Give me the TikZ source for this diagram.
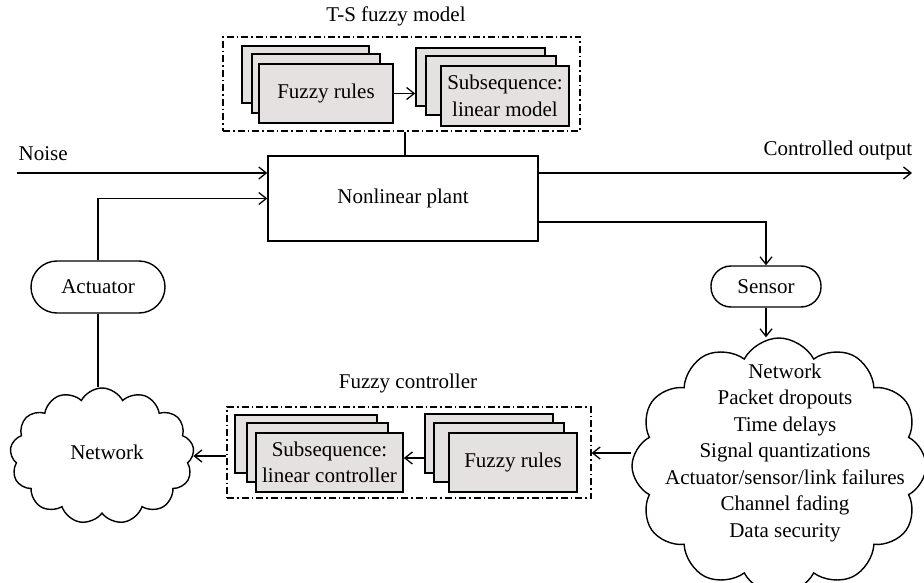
\documentclass[tikz,border=0pt]{standalone}
\usepackage{fontspec}
\setmainfont{Liberation Serif}
\usetikzlibrary{arrows.meta,shapes.symbols,calc}
\definecolor{boxfill}{RGB}{230,225,225}
\begin{document}
\begin{tikzpicture}[x=1pt,y=-1pt,
  every node/.style={font=\fontsize{21}{26.5}\selectfont, inner sep=0pt},
  line width=1.4pt,
  arr/.style={-{Straight Barb[length=7.5pt,width=12pt,line width=1.3pt]}},
  card/.style={draw, fill=boxfill, line width=1.7pt, align=center},
  plantbox/.style={draw, line width=1.4pt},
  pill/.style={draw, rounded corners=20pt, line width=1.4pt},
  grp/.style={draw, line width=1.2pt, dash pattern=on 7pt off 3pt on 1.5pt off 3pt},
  cloudbox/.style={draw, cloud, cloud puffs=11, cloud puff arc=125, line width=1.4pt}
]
\useasboundingbox (0,0) rectangle (924,583);

% T-S fuzzy model
\node (tstitle) at (396,16) {T-S fuzzy model};
\node[grp, minimum width=357pt, minimum height=94pt] (tdash) at (401.5,84) {};
\node[card, minimum width=127pt, minimum height=57pt] (tfr1) at (305.5,74.5) {};
\node[card, minimum width=128pt, minimum height=59pt] (tfr2) at (316,83.5) {};
\node[card, minimum width=134pt, minimum height=59pt] (tfr3) at (326,93.5) {Fuzzy rules};
\node[card, minimum width=129pt, minimum height=58pt] (tsub1) at (480.5,77) {};
\node[card, minimum width=130pt, minimum height=59pt] (tsub2) at (491,85.5) {};
\node[card, minimum width=128pt, minimum height=60pt] (tsub3) at (505,96) {Subsequence:\\linear model};
\draw[arr] (tfr3.east) -- (tfr3.east -| tsub1.west);

% plant
\node[plantbox, minimum width=270pt, minimum height=85pt] (plant) at (403,198.5) {Nonlinear plant};
\draw ([xshift=3.5pt]tdash.south) -- ([xshift=3.5pt]tdash.south |- plant.north);

% noise and output
\node[anchor=west] (noise) at (18,154) {Noise};
\node[anchor=east] (outlbl) at (913,150) {Controlled output};
\coordinate (noiseS) at (17,173);
\coordinate (outE) at (912,173);
\draw[arr] (noiseS) -- (noiseS -| plant.west);
\draw[arr] (outE -| plant.east) -- (outE);

% actuator / sensor
\node[pill, minimum width=134pt, minimum height=52pt, rounded corners=26pt] (act) at (98,287) {Actuator};
\node[pill, minimum width=110pt, minimum height=41pt] (sens) at (766,286.5) {Sensor};
\draw[arr] (act.north) |- (plant.west);
\draw[arr] ([yshift=-23.5pt]plant.east) -| (sens.north);

% clouds
\node[cloudbox, cloud puffs=13, minimum width=184pt, minimum height=136pt] (cloudL) at (102,456) {};
\node (netL) at (107,452) {Network};
\node[cloudbox, cloud puffs=12, minimum width=294pt, minimum height=256pt] (cloudR) at (779,466) {};
\node[align=center] (netR) at (785,452.5) {Network\\Packet dropouts\\Time delays\\Signal quantizations\\Actuator/sensor/link failures\\Channel fading\\Data security};
\draw[arr] (sens.south) -- (sens.south |- cloudR.north);
\draw (act.south) -- (act.south |- cloudL.north);

% fuzzy controller
\node (fctitle) at (408,383) {Fuzzy controller};
\node[grp, minimum width=364pt, minimum height=91pt] (ldash) at (409,452.5) {};
\node[card, minimum width=142pt, minimum height=58pt] (lsub1) at (306,444) {};
\node[card, minimum width=141pt, minimum height=59pt] (lsub2) at (317.5,452.5) {};
\node[card, minimum width=147pt, minimum height=59pt] (lsub3) at (329.5,462.5) {Subsequence:\\linear controller};
\node[card, minimum width=128pt, minimum height=59pt] (lfr1) at (489,443.5) {};
\node[card, minimum width=130pt, minimum height=59pt] (lfr2) at (499,452.5) {};
\node[card, minimum width=128pt, minimum height=59pt] (lfr3) at (513,462.5) {Fuzzy rules};
\draw[arr] ([yshift=-14.5pt]lfr1.west) -- ([yshift=4.5pt]lsub3.east);
\draw[arr] ([yshift=13pt]cloudR.west) -- ([yshift=13pt]cloudR.west -| ldash.east);
\draw[arr] ([yshift=-3.5pt]ldash.west) -- ([yshift=-3.5pt]ldash.west -| cloudL.east);
\end{tikzpicture}
\end{document}
